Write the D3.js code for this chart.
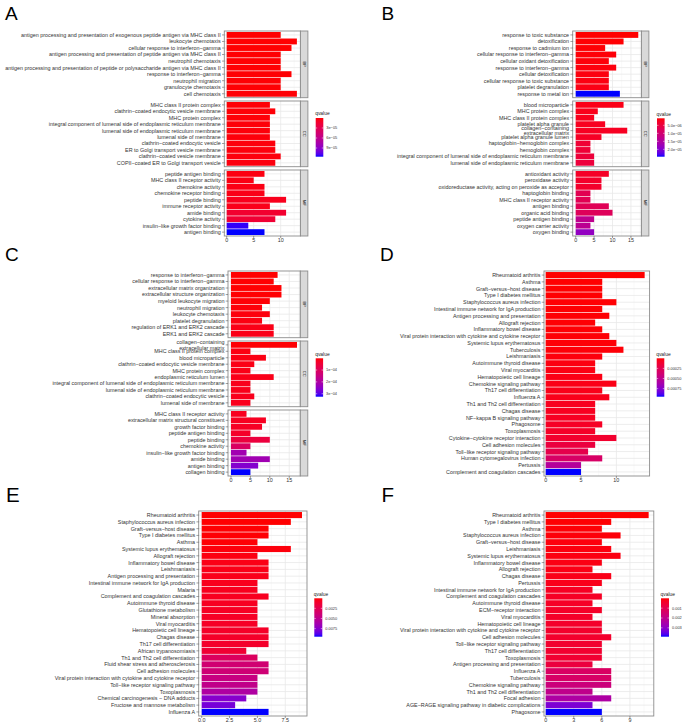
<!DOCTYPE html>
<html><head><meta charset="utf-8">
<script src="https://cdn.jsdelivr.net/npm/d3@7"></script>
<style>body{margin:0;background:#fff;} svg{display:block;font-family:"Liberation Sans",Arial,Helvetica,sans-serif;}</style>
</head><body><svg id="c" width="685" height="727"></svg>
<script>
// ---------------- DATA ----------------
const ontology = ["BP","CC","MF"];
const goGroups = ontology.flatMap(o => [o,o,o,o,o,o,o,o,o,o]);

const aTerms = [
 "antigen processing and presentation of exogenous peptide antigen via MHC class II","leukocyte chemotaxis","cellular response to interferon−gamma","antigen processing and presentation of peptide antigen via MHC class II","neutrophil chemotaxis","antigen processing and presentation of peptide or polysaccharide antigen via MHC class II","response to interferon−gamma","neutrophil migration","granulocyte chemotaxis","cell chemotaxis",
 "MHC class II protein complex","clathrin−coated endocytic vesicle membrane","MHC protein complex","integral component of lumenal side of endoplasmic reticulum membrane","lumenal side of endoplasmic reticulum membrane","lumenal side of membrane","clathrin−coated endocytic vesicle","ER to Golgi transport vesicle membrane","clathrin−coated vesicle membrane","COPII−coated ER to Golgi transport vesicle",
 "peptide antigen binding","MHC class II receptor activity","chemokine activity","chemokine receptor binding","peptide binding","immune receptor activity","amide binding","cytokine activity","insulin−like growth factor binding","antigen binding"];
const aCounts = [10,13,12,10,10,10,12,10,10,13, 8,9,8,8,8,8,9,9,10,9, 7,5,7,7,11,8,11,9,4,7];
const aQvalue = [1e-7,2e-7,3e-7,4e-7,5e-7,6e-7,7e-7,8e-7,9e-7,1e-6, 1.2e-6,1.4e-6,1.6e-6,1.8e-6,2e-6,2.2e-6,2.4e-6,2.6e-6,2.8e-6,3e-6, 3.5e-6,4e-6,4.5e-6,5e-6,7e-6,6e-6,1.4e-5,1.6e-5,1.13e-4,1.16e-4];

const bTerms = [
 "response to toxic substance","detoxification","response to cadmium ion","cellular response to interferon−gamma","cellular oxidant detoxification","response to interferon−gamma","cellular detoxification","cellular response to toxic substance","platelet degranulation","response to metal ion",
 "blood microparticle","MHC protein complex","MHC class II protein complex","platelet alpha granule","collagen−containing\nextracellular matrix","platelet alpha granule lumen","haptoglobin−hemoglobin complex","hemoglobin complex","integral component of lumenal side of endoplasmic reticulum membrane","lumenal side of endoplasmic reticulum membrane",
 "antioxidant activity","peroxidase activity","oxidoreductase activity, acting on peroxide as acceptor","haptoglobin binding","MHC class II receptor activity","antigen binding","organic acid binding","peptide antigen binding","oxygen carrier activity","oxygen binding"];
const bCounts = [17,13,8,11,9,11,9,9,9,12, 13,6,5,8,14,7,4,4,5,5, 9,7,7,4,4,9,10,5,4,5];
const bQvalue = [6e-7,7e-7,8e-7,9e-7,1e-6,1.1e-6,1.2e-6,1.3e-6,1.5e-6,2.46e-5, 1.6e-6,1.8e-6,2e-6,2.2e-6,2.4e-6,2.6e-6,4e-6,4.2e-6,4.5e-6,4.6e-6, 2.8e-6,3e-6,3.2e-6,6.8e-6,7e-6,7.2e-6,7.6e-6,1.3e-5,1.35e-5,1.85e-5];

const cTerms = [
 "response to interferon−gamma","cellular response to interferon−gamma","extracellular matrix organization","extracellular structure organization","myeloid leukocyte migration","neutrophil migration","leukocyte chemotaxis","platelet degranulation","regulation of ERK1 and ERK2 cascade","ERK1 and ERK2 cascade",
 "collagen−containing\nextracellular matrix","MHC class II protein complex","blood microparticle","clathrin−coated endocytic vesicle membrane","MHC protein complex","endoplasmic reticulum lumen","integral component of lumenal side of endoplasmic reticulum membrane","lumenal side of endoplasmic reticulum membrane","clathrin−coated endocytic vesicle","lumenal side of membrane",
 "MHC class II receptor activity","extracellular matrix structural constituent","growth factor binding","peptide antigen binding","peptide binding","chemokine activity","insulin−like growth factor binding","amide binding","antigen binding","collagen binding"];
const cCounts = [12,11,13,13,10,8,10,8,11,11, 17,5,9,6,5,11,5,5,6,5, 4,9,8,5,10,5,4,10,7,5];
const cQvalue = [1e-6,1.5e-6,2e-6,2.5e-6,4e-6,6e-6,8e-6,1e-5,1.5e-5,1.5e-5, 3e-6,1e-5,1.2e-5,1.4e-5,1.5e-5,1.6e-5,1.8e-5,1.8e-5,2e-5,2e-5, 2.2e-5,2.4e-5,2.8e-5,3.2e-5,5.8e-5,1.07e-4,2.2e-4,2.22e-4,2.6e-4,3.25e-4];

const dTerms = ["Rheumatoid arthritis","Asthma","Graft−versus−host disease","Type I diabetes mellitus","Staphylococcus aureus infection","Intestinal immune network for IgA production","Antigen processing and presentation","Allograft rejection","Inflammatory bowel disease","Viral protein interaction with cytokine and cytokine receptor","Systemic lupus erythematosus","Tuberculosis","Leishmaniasis","Autoimmune thyroid disease","Viral myocarditis","Hematopoietic cell lineage","Chemokine signaling pathway","Th17 cell differentiation","Influenza A","Th1 and Th2 cell differentiation","Chagas disease","NF−kappa B signaling pathway","Phagosome","Toxoplasmosis","Cytokine−cytokine receptor interaction","Cell adhesion molecules","Toll−like receptor signaling pathway","Human cytomegalovirus infection","Pertussis","Complement and coagulation cascades"];
const dCounts = [14,8,8,8,10,8,9,7,8,9,10,11,8,7,7,8,10,8,9,7,7,7,8,7,10,7,6,8,5,5];
const dQvalue = [1e-7,1e-6,2e-6,3e-6,4e-6,5e-6,6e-6,7e-6,8e-6,9e-6,1e-5,1.2e-5,2e-5,2.5e-5,3e-5,3.5e-5,4e-5,4.5e-5,5e-5,6e-5,6.5e-5,7e-5,8e-5,9e-5,1.1e-4,1.7e-4,2.2e-4,3.3e-4,5.5e-4,9.5e-4];

const eTerms = ["Rheumatoid arthritis","Staphylococcus aureus infection","Graft−versus−host disease","Type I diabetes mellitus","Asthma","Systemic lupus erythematosus","Allograft rejection","Inflammatory bowel disease","Leishmaniasis","Antigen processing and presentation","Intestinal immune network for IgA production","Malaria","Complement and coagulation cascades","Autoimmune thyroid disease","Glutathione metabolism","Mineral absorption","Viral myocarditis","Hematopoietic cell lineage","Chagas disease","Th17 cell differentiation","African trypanosomiasis","Th1 and Th2 cell differentiation","Fluid shear stress and atherosclerosis","Cell adhesion molecules","Viral protein interaction with cytokine and cytokine receptor","Toll−like receptor signaling pathway","Toxoplasmosis","Chemical carcinogenesis − DNA adducts","Fructose and mannose metabolism","Influenza A"];
const eCounts = [9,8,6,6,5,8,5,6,6,6,5,5,6,5,5,5,5,6,6,6,4,5,6,6,5,5,5,4,3,6];
const eQvalue = [2e-5,4e-5,6e-5,8e-5,1e-4,2e-4,3e-4,4e-4,4.5e-4,5e-4,5.5e-4,6e-4,6.5e-4,7e-4,7.5e-4,8e-4,8.5e-4,9e-4,9.5e-4,1e-3,1.3e-3,3.0e-3,3.8e-3,3.9e-3,4.4e-3,4.8e-3,5.8e-3,7.5e-3,8.0e-3,9.5e-3];

const fTerms = ["Rheumatoid arthritis","Type I diabetes mellitus","Asthma","Staphylococcus aureus infection","Graft−versus−host disease","Leishmaniasis","Systemic lupus erythematosus","Inflammatory bowel disease","Allograft rejection","Chagas disease","Pertussis","Intestinal immune network for IgA production","Complement and coagulation cascades","Autoimmune thyroid disease","ECM−receptor interaction","Viral myocarditis","Hematopoietic cell lineage","Viral protein interaction with cytokine and cytokine receptor","Cell adhesion molecules","Toll−like receptor signaling pathway","Th17 cell differentiation","Toxoplasmosis","Antigen processing and presentation","Influenza A","Tuberculosis","Chemokine signaling pathway","Th1 and Th2 cell differentiation","Focal adhesion","AGE−RAGE signaling pathway in diabetic complications","Phagosome"];
const fCounts = [11,7,6,8,6,7,8,6,5,7,6,5,6,5,6,5,6,6,7,6,6,6,5,7,7,7,5,7,5,6];
const fQvalue = [1e-6,2e-5,4e-5,6e-5,8e-5,1e-4,1.2e-4,1.4e-4,1.6e-4,1.8e-4,2e-4,3e-4,3.2e-4,3.4e-4,3.6e-4,3.8e-4,4e-4,4.2e-4,4.4e-4,4.6e-4,4.8e-4,5e-4,7e-4,1.3e-3,1.35e-3,1.7e-3,2.0e-3,2.4e-3,3.2e-3,3.9e-3];

const xTicksA = [0,5,10], xTicksB = [0,5,10,15], xTicksC = [0,5,10,15], xTicksD = [0,5,10], xTicksE = [0,2.5,5,7.5], xTicksF = [0,3,6,9];
const xLabelsE = ["0.0","2.5","5.0","7.5"];
const legTicksA = [3e-5,6e-5,9e-5], legLabelsA = ["3e−05","6e−05","9e−05"];
const legTicksB = [5e-6,1e-5,1.5e-5,2e-5], legLabelsB = ["5.0e−06","1.0e−05","1.5e−05","2.0e−05"];
const legTicksC = [1e-4,2e-4,3e-4], legLabelsC = ["1e−04","2e−04","3e−04"];
const legTicksD = [0.00025,0.0005,0.00075], legLabelsD = ["0.00025","0.00050","0.00075"];
const legTicksE = [0.0025,0.005,0.0075], legLabelsE = ["0.0025","0.0050","0.0075"];
const legTicksF = [0.001,0.002,0.003], legLabelsF = ["0.001","0.002","0.003"];
const panelLetters = ["A","B","C","D","E","F"];

// ---------------- LAYOUT ----------------
const svg = d3.select("#c");
svg.append("rect").attr("width",685).attr("height",727).attr("fill","#fff");
const defs = svg.append("defs");
const FS = 5.4;

function drawPanel(P){
  const g = svg.append("g");
  const maxC = d3.max(P.counts);
  const x = d3.scaleLinear().domain([-P.padL*maxC, 1.05*maxC]).range([P.x0, P.x1]);
  const qExt = d3.extent(P.q);
  const col = d3.scaleLinear().domain(qExt).range(["#ff0000","#0000ff"]).interpolate(d3.interpolateLab);
  const groups = P.groups || P.terms.map(() => "");
  const facetNames = Array.from(new Set(groups));
  const step = P.ticks[1]-P.ticks[0];
  const dom = x.domain();
  const majors = P.ticks;
  const minors = d3.range(P.ticks[0]+step/2, dom[1], step);
  let lastBottom = 0;
  facetNames.forEach((fn, fi) => {
    const idx = d3.range(P.terms.length).filter(i => groups[i] === fn);
    const [yt, yb] = P.facetsY[fi];
    lastBottom = yb;
    const y = d3.scaleBand().domain(idx).range([yt, yb]).paddingInner(0.1).paddingOuter(0.15);
    g.append("rect").attr("x",P.x0).attr("y",yt).attr("width",P.x1-P.x0).attr("height",yb-yt).attr("fill","#fff");
    g.selectAll(null).data(minors).join("line")
      .attr("x1",d=>x(d)).attr("x2",d=>x(d)).attr("y1",yt).attr("y2",yb)
      .attr("stroke","#f2f2f2").attr("stroke-width",0.5);
    g.selectAll(null).data(majors).join("line")
      .attr("x1",d=>x(d)).attr("x2",d=>x(d)).attr("y1",yt).attr("y2",yb)
      .attr("stroke","#e8e8e8").attr("stroke-width",0.8);
    g.selectAll(null).data(idx).join("line")
      .attr("x1",P.x0).attr("x2",P.x1).attr("y1",d=>y(d)+y.bandwidth()/2).attr("y2",d=>y(d)+y.bandwidth()/2)
      .attr("stroke","#e8e8e8").attr("stroke-width",0.8);
    g.selectAll(null).data(idx).join("rect")
      .attr("x",x(0)).attr("y",d=>y(d)).attr("width",d=>x(P.counts[d])-x(0)).attr("height",y.bandwidth())
      .attr("fill",d=>col(P.q[d]));
    g.append("rect").attr("x",P.x0).attr("y",yt).attr("width",P.x1-P.x0).attr("height",yb-yt)
      .attr("fill","none").attr("stroke","#8c8c8c").attr("stroke-width",0.9);
    // y axis ticks & labels
    g.selectAll(null).data(idx).join("line")
      .attr("x1",P.x0-2.3).attr("x2",P.x0).attr("y1",d=>y(d)+y.bandwidth()/2).attr("y2",d=>y(d)+y.bandwidth()/2)
      .attr("stroke","#444").attr("stroke-width",0.5);
    g.selectAll(null).data(idx).join("text")
      .attr("text-anchor","end").attr("font-size",FS).attr("fill","#333")
      .each(function(d){
        const lines = P.terms[d].split("\n");
        const cy = y(d)+y.bandwidth()/2;
        const lh = FS*1.05;
        const t = d3.select(this);
        lines.forEach((ln, li) => {
          t.append("tspan").attr("x",P.x0-3.6)
            .attr("y", cy + (li-(lines.length-1)/2)*lh + FS*0.36).text(ln);
        });
      });
    if (fn) {
      const sw = 7.5;
      g.append("rect").attr("x",P.x1).attr("y",yt).attr("width",sw).attr("height",yb-yt)
        .attr("fill","#d9d9d9").attr("stroke","#8c8c8c").attr("stroke-width",0.9);
      g.append("text").attr("transform",`translate(${P.x1+sw/2},${(yt+yb)/2}) rotate(90)`)
        .attr("text-anchor","middle").attr("dy","0.35em").attr("font-size",4.2).attr("fill","#1a1a1a").text(fn);
    }
  });
  // x axis
  g.selectAll(null).data(majors).join("line")
    .attr("x1",d=>x(d)).attr("x2",d=>x(d)).attr("y1",lastBottom).attr("y2",lastBottom+2)
    .attr("stroke","#444").attr("stroke-width",0.5);
  g.selectAll(null).data(majors).join("text")
    .attr("x",d=>x(d)).attr("y",lastBottom+6.3).attr("text-anchor","middle")
    .attr("font-size",FS).attr("fill","#333")
    .text((d,i)=> P.tickLabels ? P.tickLabels[i] : String(d));
  // legend
  const L = P.legend;
  const gid = "grad"+P.id;
  const grad = defs.append("linearGradient").attr("id",gid).attr("x1",0).attr("x2",0).attr("y1",0).attr("y2",1);
  d3.range(0,1.0001,0.05).forEach(t => {
    grad.append("stop").attr("offset",t).attr("stop-color",col(qExt[0]+t*(qExt[1]-qExt[0])));
  });
  const ly = d3.scaleLinear().domain(qExt).range([L.y, L.y+L.h]);
  g.append("text").attr("x",L.x-0.5).attr("y",L.y-2.8).attr("font-size",4.9).attr("fill","#222").text("qvalue");
  g.append("rect").attr("x",L.x).attr("y",L.y).attr("width",L.w).attr("height",L.h).attr("fill",`url(#${gid})`);
  g.selectAll(null).data(P.legTicks).join("line")
    .attr("x1",L.x).attr("x2",L.x+1.5).attr("y1",d=>ly(d)).attr("y2",d=>ly(d)).attr("stroke","#fff").attr("stroke-width",0.5);
  g.selectAll(null).data(P.legTicks).join("line")
    .attr("x1",L.x+L.w-1.5).attr("x2",L.x+L.w).attr("y1",d=>ly(d)).attr("y2",d=>ly(d)).attr("stroke","#fff").attr("stroke-width",0.5);
  g.selectAll(null).data(P.legTicks).join("text")
    .attr("x",L.x+L.w+3).attr("y",d=>ly(d)+1.4).attr("font-size",3.9).attr("fill","#333")
    .text((d,i)=>P.legLabels[i]);
  // letter
  svg.append("text").attr("x",P.letter[0]).attr("y",P.letter[1]).attr("font-size",P.letterSize||19)
    .attr("fill","#000").text(P.id);
}

const fY1 = [[31,97.7],[101,166.7],[170,236]];
const fY2 = [[271,337.7],[341,406.7],[410,476]];
drawPanel({id:panelLetters[0], terms:aTerms, counts:aCounts, q:aQvalue, groups:goGroups, ticks:xTicksA,
  x0:224.3, x1:300.4, padL:0.034, facetsY:fY1, legend:{x:315.7,y:118,w:7.6,h:38.7},
  legTicks:legTicksA, legLabels:legLabelsA, letter:[5,20]});
drawPanel({id:panelLetters[1], terms:bTerms, counts:bCounts, q:bQvalue, groups:goGroups, ticks:xTicksB,
  x0:572.7, x1:641.4, padL:0.048, facetsY:fY1, legend:{x:657,y:118.3,w:7.6,h:38.4},
  legTicks:legTicksB, legLabels:legLabelsB, letter:[381.5,20]});
drawPanel({id:panelLetters[2], terms:cTerms, counts:cCounts, q:cQvalue, groups:goGroups, ticks:xTicksC,
  x0:228, x1:300.3, padL:0.045, facetsY:fY2, legend:{x:315.7,y:358.3,w:7.4,h:38.4},
  legTicks:legTicksC, legLabels:legLabelsC, letter:[5,261]});
drawPanel({id:panelLetters[3], terms:dTerms, counts:dCounts, q:dQvalue, ticks:xTicksD,
  x0:544, x1:649.6, padL:0.017, facetsY:[[271,476]], legend:{x:656.7,y:358.3,w:7.6,h:38.4},
  legTicks:legTicksD, legLabels:legLabelsD, letter:[380,261]});
drawPanel({id:panelLetters[4], terms:eTerms, counts:eCounts, q:eQvalue, ticks:xTicksE, tickLabels:xLabelsE,
  x0:198.7, x1:307, padL:0.03, facetsY:[[511,716]], legend:{x:314.3,y:598.3,w:8,h:38.4},
  legTicks:legTicksE, legLabels:legLabelsE, letter:[6,501.5], letterSize:20.5});
drawPanel({id:panelLetters[5], terms:fTerms, counts:fCounts, q:fQvalue, ticks:xTicksF,
  x0:544, x1:653.8, padL:0.0165, facetsY:[[511,716]], legend:{x:661,y:598.3,w:8,h:38.4},
  legTicks:legTicksF, legLabels:legLabelsF, letter:[381.5,501.5], letterSize:20.5});
</script>
</body></html>
